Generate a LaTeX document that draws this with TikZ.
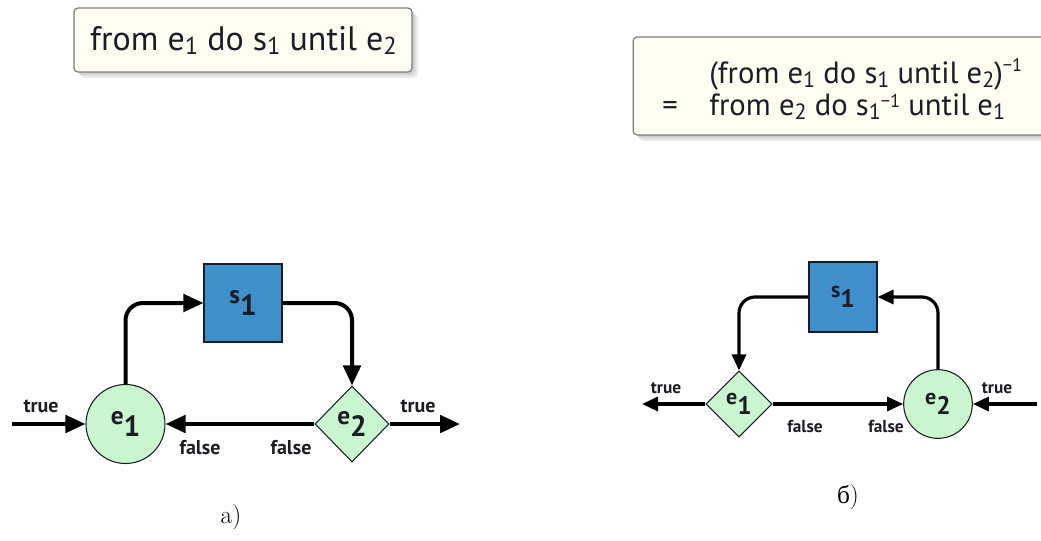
\documentclass[tikz,border=0pt]{standalone}
\usepackage{fontspec}
\setsansfont{PT Sans}
\newfontfamily\cyrserif{Liberation Serif}
\usetikzlibrary{shapes.geometric,arrows.meta,shadows}

\definecolor{nodegreen}{HTML}{C9F5CF}
\definecolor{boxblue}{HTML}{3F8FCC}
\definecolor{notefill}{HTML}{FEFEF2}
\definecolor{notegray}{HTML}{7A7A7A}
\definecolor{ink}{HTML}{1C1C24}

% node label: letter raised, index lowered and larger
\newcommand\nlab[2]{{\fontsize{19}{22}\selectfont #1}\raisebox{-9pt}{\fontsize{22}{25}\selectfont #2}}
\newcommand\nlabs[2]{{\fontsize{16.5}{19}\selectfont #1}\raisebox{-8pt}{\fontsize{19}{22}\selectfont #2}}
% indices and inverse marks in the formulas
\newcommand\ix[1]{\raisebox{-0.28ex}{\fontsize{0.72em}{1em}\selectfont #1}}
\newcommand\inv[1]{\raisebox{#1}{\fontsize{0.6em}{1em}\selectfont −1}}

\begin{document}
\begin{tikzpicture}[x=0.75pt,y=-0.75pt,
  note/.style={draw=notegray, line width=0.9pt, fill=notefill, rounded corners=3pt,
    general shadow={fill=black, opacity=0.07, shadow xshift=1.5pt, shadow yshift=-1.5pt},
    general shadow={fill=black, opacity=0.07, shadow xshift=3pt, shadow yshift=-3pt},
    general shadow={fill=black, opacity=0.07, shadow xshift=4.5pt, shadow yshift=-4.5pt}},
  notetext/.style={inner sep=0pt, text=ink, font=\sffamily\fontsize{#1}{#1}\selectfont},
  cond/.style={circle, draw=ink, line width=0.8pt, fill=nodegreen, inner sep=0pt, text=ink, font=\sffamily\bfseries},
  test/.style={diamond, aspect=1, draw=ink, line width=0.8pt, fill=nodegreen, inner sep=0pt, text=ink, font=\sffamily\bfseries},
  stmt/.style={rectangle, draw=ink, line width=0.8pt, fill=boxblue, inner sep=0pt, text=ink, font=\sffamily\bfseries},
  flow/.style={draw=black, line width=3pt, rounded corners=13pt, -{Triangle[length=15pt,width=13pt]}},
  flows/.style={draw=black, line width=2.4pt, rounded corners=12pt, -{Triangle[length=12pt,width=10.5pt]}},
  tag/.style={inner sep=0pt, text=ink, font=\sffamily\bfseries\fontsize{15}{17}\selectfont},
  tags/.style={inner sep=0pt, text=ink, font=\sffamily\bfseries\fontsize{13}{15}\selectfont},
  caption/.style={inner sep=0pt, font=\fontsize{19}{22}\selectfont}]

\useasboundingbox (0,0) rectangle (1041,540);
\fill[white] (0,0) rectangle (1041,540);

% formula boxes
\node[note, minimum width=253.5pt, minimum height=48pt] (f1) at (243,40) {};
\node[notetext=25.5, anchor=base] (f1t) at (243.5,50) {from e\ix{1} do s\ix{1} until e\ix{2}};

\node[note, minimum width=320pt, minimum height=73.5pt] (f2) at (846.5,86) {};
\node[notetext=23, anchor=base west] (f2a) at (709,83) {(from e\ix{1} do s\ix{1} until e\ix{2})\inv{9pt}};
\node[notetext=23, anchor=base west] (f2eq) at (662,115) {=};
\node[notetext=23, anchor=base west] (f2b) at (709,115) {from e\ix{2} do s\ix{1}\inv{6pt} until e\ix{1}};

% a) forward loop
\node[stmt, minimum width=58.5pt, minimum height=58.5pt] (as) at (243,303) {\nlab{s}{1}};
\node[cond, minimum size=59.25pt] (ae1) at (125.5,424) {\nlab{e}{1}};
\node[test, minimum width=55.5pt, minimum height=57pt] (ae2) at (352,424) {\nlab{e}{2}};
\coordinate (ain) at (12,424);
\coordinate (aout) at (460,424);

\draw[flow] (ain) -- (ae1.west);
\draw[flow] (ae1.north) |- (as.west);
\draw[flow] (as.east) -| (ae2.north);
\draw[flow] (ae2.west) -- (ae1.east);
\draw[flow] (ae2.east) -- (aout);

\node[tag] (at1) at (41,406) {true};
\node[tag] (at2) at (418,406) {true};
\node[tag] (af1) at (200,448) {false};
\node[tag] (af2) at (291,448) {false};

% b) inverse loop
\node[stmt, minimum width=51pt, minimum height=52.5pt] (bs) at (843,297) {\nlabs{s}{1}};
\node[test, minimum width=49.5pt, minimum height=49.5pt] (be1) at (739,404) {\nlabs{e}{1}};
\node[cond, minimum size=51.5pt] (be2) at (938,404) {\nlabs{e}{2}};
\coordinate (bout) at (642,404);
\coordinate (bin) at (1037,404);

\draw[flows] (bs.west) -| (be1.north);
\draw[flows] (be2.north) |- (bs.east);
\draw[flows] (be1.east) -- (be2.west);
\draw[flows] (be1.west) -- (bout);
\draw[flows] (bin) -- (be2.east);

\node[tags] (bt1) at (666,388) {true};
\node[tags] (bt2) at (997,388) {true};
\node[tags] (bf1) at (805,426) {false};
\node[tags] (bf2) at (886,426) {false};

% captions
\node[caption, anchor=base] (capa) at (231,523) {a)};
\node[caption, anchor=base] (capb) at (848,503) {{\cyrserif б})};
\end{tikzpicture}
\end{document}
